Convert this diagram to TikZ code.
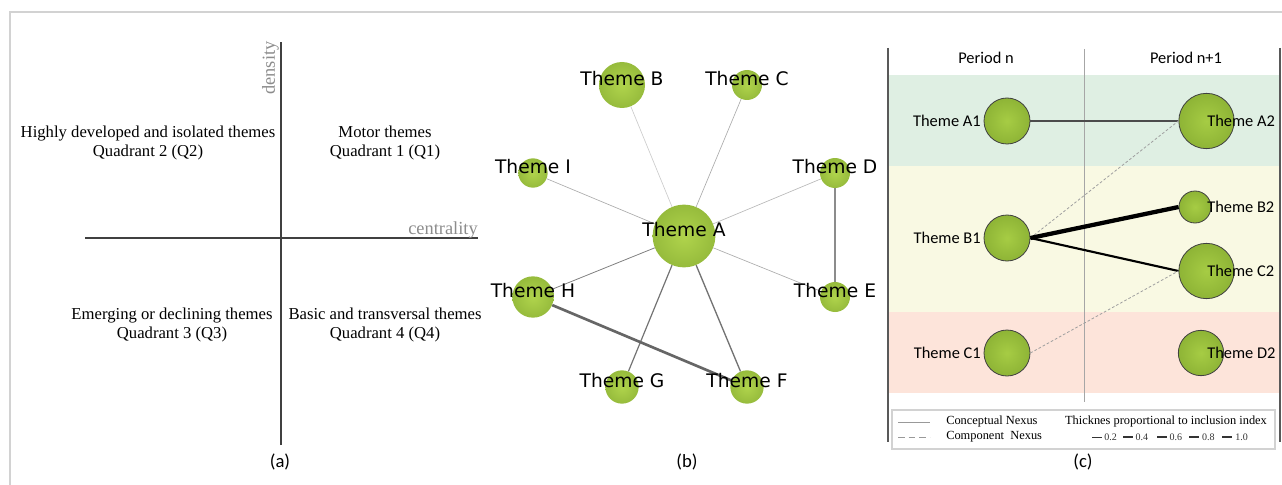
\documentclass[tikz,border=0pt]{standalone}
\usepackage{fontspec}
\setmainfont{Liberation Serif}
\newfontfamily\netfont{DejaVu Sans}
\newfontfamily\evofont{Carlito}
\usetikzlibrary{positioning}

\definecolor{framegray}{HTML}{D2D2D2}
\definecolor{axisgray}{HTML}{8C8C8C}
\definecolor{themein}{HTML}{B0D44C}
\definecolor{themeout}{HTML}{96BB3C}
\definecolor{evoin}{HTML}{A6CC44}
\definecolor{evoout}{HTML}{8EB436}
\definecolor{bandA}{HTML}{DFEFE3}
\definecolor{bandB}{HTML}{F9F9E3}
\definecolor{bandC}{HTML}{FDE4DA}

\tikzset{
  bubble/.style={circle, inner sep=0pt, shade, inner color=themein, outer color=themeout},
  evo/.style={circle, inner sep=0pt, draw=black!75, line width=0.6pt, shade, inner color=evoin, outer color=evoout},
  netlab/.style={font=\netfont\fontsize{14}{16}\selectfont, inner sep=0pt, yshift=4.5pt},
  evolab/.style={font=\evofont\fontsize{12.3}{14}\selectfont, inner sep=0pt},
  quad/.style={align=center, font=\fontsize{12.5}{14.3}\selectfont, inner sep=0pt},
  axlab/.style={text=axisgray, font=\fontsize{13.8}{15}\selectfont, inner sep=0pt},
  legtxt/.style={font=\fontsize{9.3}{11}\selectfont, inner sep=0pt},
  sample/.style={font=\fontsize{7.5}{8}\selectfont, inner sep=0pt, right=1.5pt},
  caption/.style={font=\evofont\fontsize{14}{16}\selectfont, inner sep=0pt},
  weak/.style={draw=#1, line width=0.5pt},
  heavy/.style={draw=#1, line width=2pt},
  nexus/.style={draw=gray!75, line width=0.6pt, dash pattern=on 2pt off 1.5pt},
}

\begin{document}
\begin{tikzpicture}[x=0.75pt, y=-0.75pt]
\useasboundingbox (0,0) rectangle (1282,485);

% frame
\draw[framegray, line width=1.2pt] (10,485) -- (10,12) -- (1282,12);

\begin{scope}
    % axes of the strategic diagram
    \coordinate (ytop) at (281,42);
    \coordinate (ybot) at (281,445);
    \coordinate (xleft) at (85,238);
    \coordinate (xright) at (478,238);
    \draw[black!75, line width=0.8pt] (ybot) -- (ytop);
    \draw[black!75, line width=0.8pt] (xleft) -- (xright);
    \node[axlab, rotate=90] (dens) at (270.5,68) {density};
    \node[axlab, anchor=base east] (cent) at (478,234) {centrality};

    \node[quad] (Q2) at (148,143) {Highly developed and isolated themes\\Quadrant 2 (Q2)};
    \node[quad] (Q1) at (385,143) {Motor themes\\Quadrant 1 (Q1)};
    \node[quad] (Q3) at (172,325) {Emerging or declining themes\\Quadrant 3 (Q3)};
    \node[quad] (Q4) at (385,325) {Basic and transversal themes\\Quadrant 4 (Q4)};
    \node[caption] (capa) at (280,462) {(a)};
\end{scope}

\begin{scope}
    % Define nodes
    \draw (684,236) node[bubble, minimum size=47pt] (A) {};
    \draw (622,85) node[bubble, minimum size=34.5pt] (B) {};
    \draw (747,85) node[bubble, minimum size=22.5pt] (C) {};
    \draw (835,173) node[bubble, minimum size=22.5pt] (D) {};
    \draw (835,297) node[bubble, minimum size=22.5pt] (E) {};
    \draw (747,387) node[bubble, minimum size=25pt] (F) {};
    \draw (622,387) node[bubble, minimum size=25pt] (G) {};
    \draw (533,297) node[bubble, minimum size=31pt] (H) {};
    \draw (533,173) node[bubble, minimum size=22pt] (I) {};

    % links
    \draw[weak=gray!40] (A) -- (B);
    \draw[weak=gray!65] (A) -- (C);
    \draw[weak=gray!55] (A) -- (D);
    \draw[weak=gray!65] (A) -- (E);
    \draw[weak=black!55, line width=1pt] (A) -- (F);
    \draw[weak=black!55, line width=0.9pt] (A) -- (G);
    \draw[weak=black!50, line width=0.6pt] (A) -- (H);
    \draw[weak=gray!65] (A) -- (I);
    \draw[heavy=gray!90] (D) -- (E);
    \draw[heavy=black!60] (H) -- (F);

    \node[netlab] (Alab) at (A) {Theme A};
    \node[netlab] (Blab) at (B) {Theme B};
    \node[netlab] (Clab) at (C) {Theme C};
    \node[netlab] (Dlab) at (D) {Theme D};
    \node[netlab] (Elab) at (E) {Theme E};
    \node[netlab] (Flab) at (F) {Theme F};
    \node[netlab] (Glab) at (G) {Theme G};
    \node[netlab] (Hlab) at (H) {Theme H};
    \node[netlab] (Ilab) at (I) {Theme I};
    \node[caption] (capb) at (687,462) {(b)};
\end{scope}

\begin{scope}
    % bands per quadrant
    \fill[bandA] (888,75) rectangle (1280,166);
    \fill[bandB] (888,166) rectangle (1280,312);
    \fill[bandC] (888,312) rectangle (1280,393);
    \coordinate (midtop) at (1084,49);
    \coordinate (midbot) at (1084,402);
    \draw[gray!70, line width=0.7pt] (midtop) -- (midbot);
    \draw[black!65, line width=1.1pt] (888,48) -- (888,442);
    \draw[black!65, line width=1.1pt] (1280,48) -- (1280,442);
    \node[evolab] (pn) at (986,58) {Period n};
    \node[evolab] (pn1) at (1186,58) {Period n+1};

    % Define nodes
    \draw (1007,121) node[evo, minimum size=34.5pt] (A1) {};
    \draw (1007,238) node[evo, minimum size=34.5pt] (B1) {};
    \draw (1007,353) node[evo, minimum size=34.5pt] (C1) {};
    \draw (1206.5,121) node[evo, minimum size=41.5pt] (A2) {};
    \draw (1195,207) node[evo, minimum size=24pt] (B2) {};
    \draw (1206.5,271) node[evo, minimum size=41.5pt] (C2) {};
    \draw (1201,353) node[evo, minimum size=34pt] (D2) {};

    \draw[black!70, line width=1pt] (A1.east) -- (A2.west);
    \draw[nexus] (B1.east) -- (A2.west);
    \draw[black, line width=3.2pt] (B1.east) -- (B2.west);
    \draw[black, line width=1.6pt] (B1.east) -- (C2.west);
    \draw[nexus] (C1.east) -- (C2.west);

    \coordinate (rlab) at (1207,0);
    \node[evolab, left=2pt of A1] (A1lab) {Theme A1};
    \node[evolab, left=2pt of B1] (B1lab) {Theme B1};
    \node[evolab, left=2pt of C1] (C1lab) {Theme C1};
    \node[evolab, anchor=west] (A2lab) at (A2 -| rlab) {Theme A2};
    \node[evolab, anchor=west] (B2lab) at (B2 -| rlab) {Theme B2};
    \node[evolab, anchor=west] (C2lab) at (C2 -| rlab) {Theme C2};
    \node[evolab, anchor=west] (D2lab) at (D2 -| rlab) {Theme D2};

    % legend
    \draw[framegray, fill=white, line width=0.8pt] (892,410) rectangle (1275,449);
    \draw[gray!80, line width=0.6pt] (898,422) -- (930,422);
    \draw[gray!80, line width=0.6pt, dash pattern=on 5pt off 3pt] (898,437) -- (930,437);
    \node[legtxt, anchor=west] (cnx) at (946,422) {Conceptual Nexus};
    \node[legtxt, anchor=west] (pnx) at (946,437) {Component\ \ Nexus};
    \node[legtxt] (thick) at (1166,422) {Thicknes proportional to inclusion index};
    \draw[black!80, line width=0.5pt] (1092,437) -- ++(10,0) node[sample] (s2) {0.2};
    \draw[black!80, line width=0.8pt] (1123,437) -- ++(10,0) node[sample] (s4) {0.4};
    \draw[black!80, line width=1.1pt] (1157,437) -- ++(10,0) node[sample] (s6) {0.6};
    \draw[black!80, line width=1.5pt] (1189,437) -- ++(10,0) node[sample] (s8) {0.8};
    \draw[black!80, line width=2pt] (1222,437) -- ++(10,0) node[sample] (s10) {1.0};
    \node[caption] (capc) at (1083,462) {(c)};
\end{scope}

\end{tikzpicture}
\end{document}
